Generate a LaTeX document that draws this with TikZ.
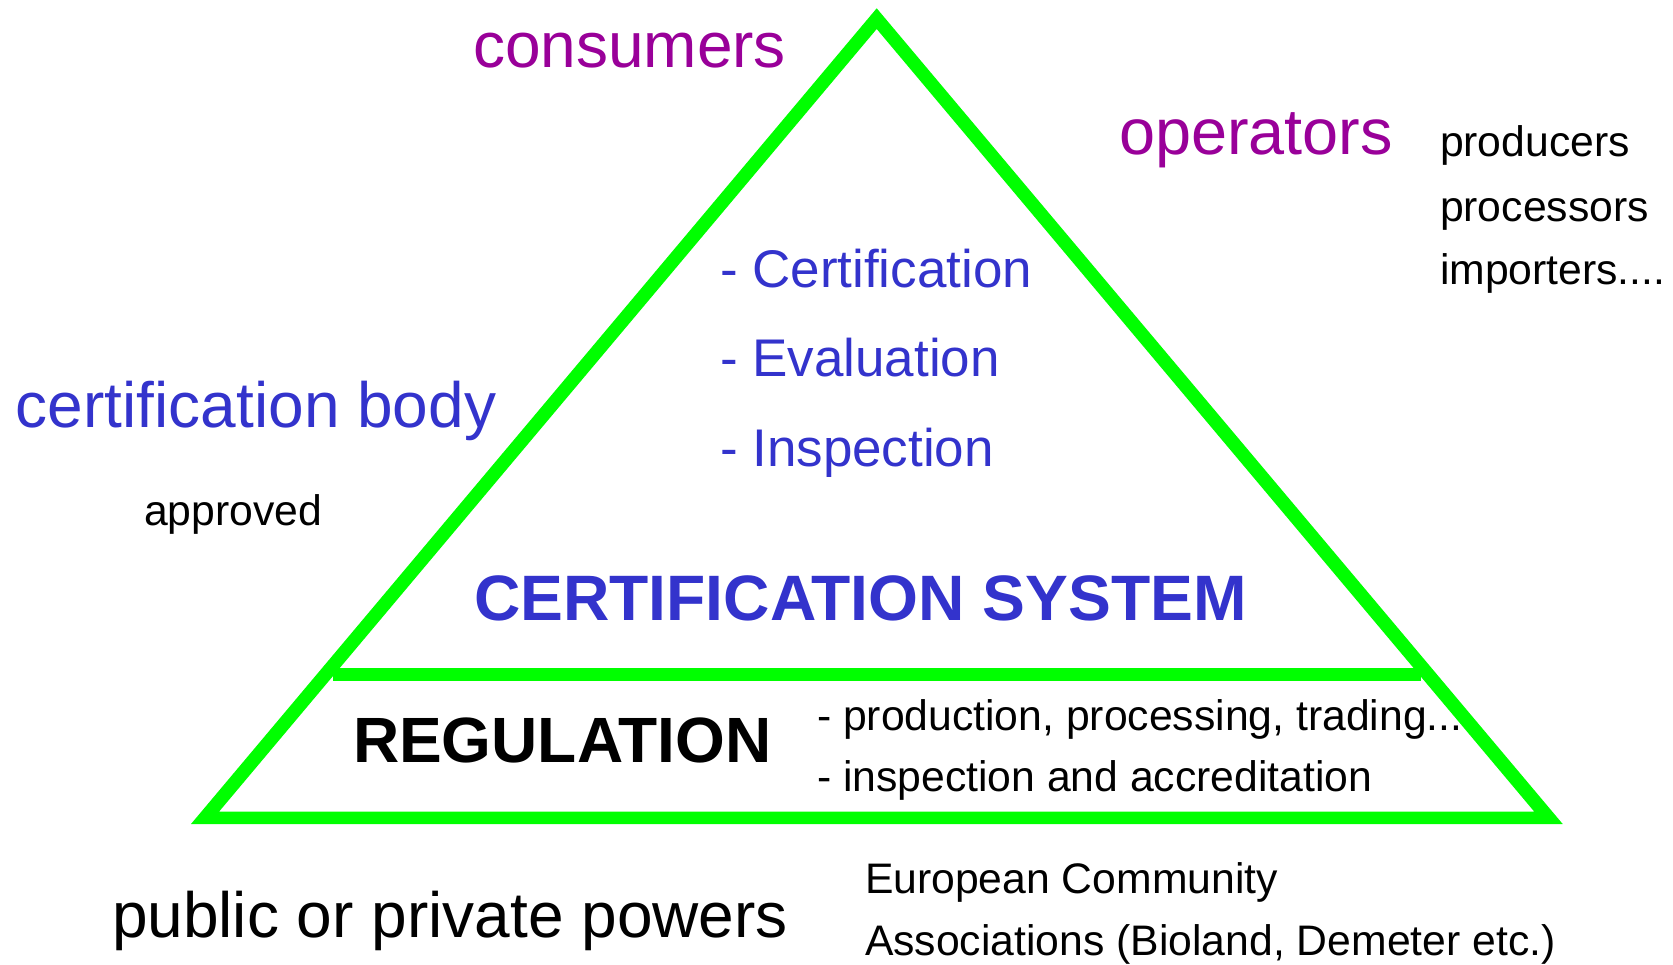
\documentclass[tikz,border=0pt]{standalone}
\usepackage{fontspec}
\setmainfont{Liberation Sans}
\definecolor{pgreen}{HTML}{00FF00}
\definecolor{ppurple}{HTML}{990099}
\definecolor{pblue}{HTML}{3333CC}
\tikzset{
  txt/.style={anchor=base west, inner sep=0pt, outer sep=0pt},
  big/.style={txt, font=\fontsize{64}{70}\selectfont},
  mid/.style={txt, font=\fontsize{53}{60}\selectfont},
  small/.style={txt, font=\fontsize{42.7}{48}\selectfont},
  bigbold/.style={txt, font=\fontsize{64.2}{70}\selectfont\bfseries},
}
\begin{document}
\begin{tikzpicture}[x=1pt,y=-1pt]
\useasboundingbox (0,0) rectangle (1673,965);
% triangle outline as a ring
\fill[pgreen, even odd rule]
  (876.7,8.3) -- (1562.7,824) -- (191,824) -- cycle
  (876.7,29) -- (1534.3,811.7) -- (219,811.7) -- cycle;
% middle bar
\fill[pgreen] (333,667.7) rectangle (1421,680.7);
% labels
\node[big, text=ppurple] (consumers) at (473,68) {consumers};
\node[big, text=ppurple, font=\fontsize{64.8}{70}\selectfont] (operators) at (1119,155) {operators};
\node[small] (producers) at (1440,156.7) {producers};
\node[small] (processors) at (1440,221.7) {processors};
\node[small] (importers) at (1440,285) {importers....};
\node[big, text=pblue] (cbody) at (16,428) {certification body};
\node[small] (approved) at (144,525) {approved};
\node[mid, text=pblue] (cert) at (720,287.7) {- Certification};
\node[mid, text=pblue] (eval) at (720,377) {- Evaluation};
\node[mid, text=pblue] (insp) at (720,466.7) {- Inspection};
\node[bigbold, text=pblue] (csys) at (474,620) {CERTIFICATION SYSTEM};
\node[bigbold, font=\fontsize{64}{70}\selectfont\bfseries] (reg) at (353,762.7) {REGULATION};
\node[small] (prod) at (817,730) {- production, processing, trading...};
\node[small] (inspacc) at (817,791.7) {- inspection and accreditation};
\node[big] (powers) at (112,937) {public or private powers};
\node[small] (ec) at (865,893) {European Community};
\node[small] (assoc) at (865,955) {Associations (Bioland, Demeter etc.)};
\end{tikzpicture}
\end{document}
